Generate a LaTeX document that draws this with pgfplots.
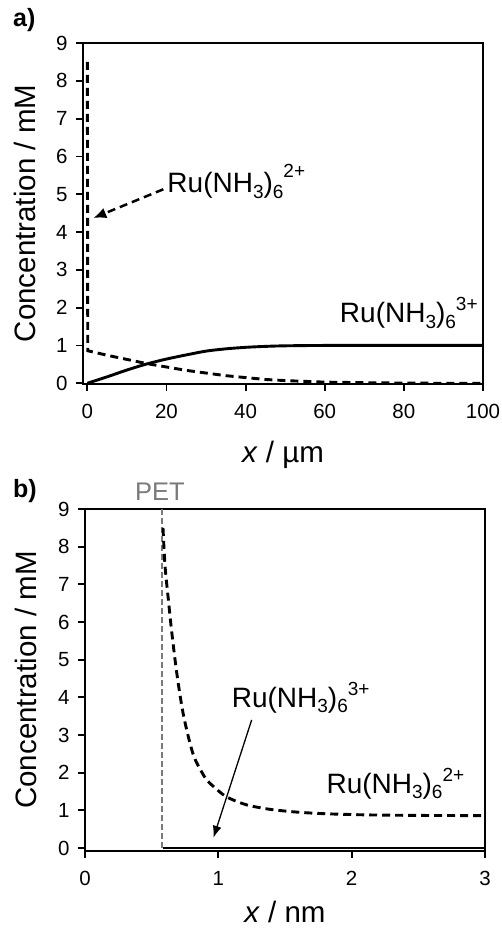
\documentclass[border=0pt]{standalone}
\usepackage{fontspec}
\setmainfont{Liberation Sans}
\usepackage{pgfplots}
\pgfplotsset{compat=1.18}
\usetikzlibrary{arrows.meta}

\newcommand{\scr}[2]{\raisebox{#1}{\fontsize{19}{19}\selectfont #2}}
\newcommand{\Ru}[2]{{\fontsize{28}{32}\selectfont Ru(NH\scr{-0.2em}{3})\scr{-0.2em}{6}\scr{#2}{#1}}}
\newcommand{\labfont}{\fontsize{29.5}{34}\selectfont}

\definecolor{petgray}{HTML}{7A7A7A}

\pgfplotsset{
  myaxis/.style={
    scale only axis,
    width=400pt,
    axis line style={line width=2pt},
    every tick/.style={line width=1.8pt, black},
    major tick length=7pt,
    tick align=outside,
    xtick pos=bottom, ytick pos=left,
    tick label style={font=\fontsize{20.5}{24}\selectfont},
    xticklabel style={yshift=-10pt},
    yticklabel style={xshift=-5pt},
    /pgf/number format/assume math mode=true,
    ymax=9, ytick={0,1,...,9},
    clip=false,
  }
}

\begin{document}
\begin{tikzpicture}
\useasboundingbox (0,0) rectangle (502pt,-928pt);

% ---------------- panel a ----------------
\begin{axis}[myaxis,
  at={(83pt,-384pt)}, anchor=south west,
  height=341pt,
  xmin=-1.1, xmax=100, ymin=-0.02,
  xtick={0,20,40,60,80,100},
]
\addplot[black, line width=2.9pt, dash pattern=on 8pt off 5pt] coordinates {
(0,8.5) (0.1,0.86) (5,0.74) (10,0.63) (15,0.52) (20,0.43) (25,0.34) (30,0.27)
(35,0.20) (40,0.15) (45,0.10) (50,0.07) (55,0.05) (60,0.03) (70,0.015) (80,0.005) (90,0) (100,0)
};
\addplot[black, line width=2.9pt, smooth] coordinates {
(0,0) (5,0.17) (10,0.35) (15,0.51) (20,0.64) (25,0.75) (30,0.85) (35,0.91)
(40,0.95) (45,0.975) (50,0.99) (60,1.0) (80,1.0) (100,1.0)
};
\draw[black, line width=2.5pt, dash pattern=on 8pt off 5pt, -{Latex[length=13pt,width=11pt]}]
  (axis cs:19.2,5.13) -- (axis cs:1.5,4.37);
\node[anchor=base west, inner sep=0pt] at (axis cs:20.2,5.04) {\Ru{2+}{0.55em}};
\node[anchor=base west, inner sep=0pt] at (axis cs:63.8,1.60) {\Ru{3+}{0.45em}};
\end{axis}

% ---------------- panel b ----------------
\begin{axis}[myaxis,
  at={(85pt,-851pt)}, anchor=south west,
  height=342pt,
  xmin=0, xmax=3, ymin=-0.08,
  xtick={0,1,2,3},
]
\addplot[petgray, line width=1.4pt, dash pattern=on 6pt off 3pt] coordinates {(0.578,0) (0.578,9)};
\addplot[black, line width=2.9pt] coordinates {(0.585,0) (3,0)};
\addplot[black, line width=2.9pt, dash pattern=on 8pt off 5pt, smooth] coordinates {
(0.585,8.5) (0.60,7.5) (0.625,6.6) (0.65,5.75) (0.69,4.6) (0.74,3.5) (0.81,2.5)
(0.875,2.02) (0.92,1.78) (1.0,1.52) (1.06,1.36) (1.15,1.22) (1.24,1.12) (1.4,1.02)
(1.6,0.95) (1.8,0.91) (2.1,0.88) (2.5,0.865) (3.0,0.86)
};
\draw[black, line width=1.3pt, -{Latex[length=12pt,width=9pt]}]
  (axis cs:1.25,3.40) -- (axis cs:0.963,0.27);
\node[anchor=base west, inner sep=0pt] at (axis cs:1.10,3.74) {\Ru{3+}{0.42em}};
\node[anchor=base west, inner sep=0pt] at (axis cs:1.81,1.45) {\Ru{2+}{0.42em}};
\end{axis}

% ---------------- labels ----------------
\node[anchor=base west, inner sep=0pt, font=\fontsize{25}{30}\selectfont\bfseries] at (13pt,-27pt) {a)};
\node[anchor=base west, inner sep=0pt, font=\fontsize{25}{30}\selectfont\bfseries] at (13pt,-497pt) {b)};
\node[anchor=base, inner sep=0pt, text=petgray, font=\fontsize{25.5}{30}\selectfont] at (160pt,-500pt) {PET};

\node[anchor=base, inner sep=0pt, rotate=90, font=\labfont] at (35pt,-213.5pt) {Concentration / mM};
\node[anchor=base, inner sep=0pt, rotate=90, font=\labfont] at (36.5pt,-680pt) {Concentration / mM};
\node[anchor=base, inner sep=0pt, font=\labfont] at (283pt,-462.7pt) {\textit{x} / µm};
\node[anchor=base, inner sep=0pt, font=\labfont] at (285pt,-922.5pt) {\textit{x} / nm};
\end{tikzpicture}
\end{document}
